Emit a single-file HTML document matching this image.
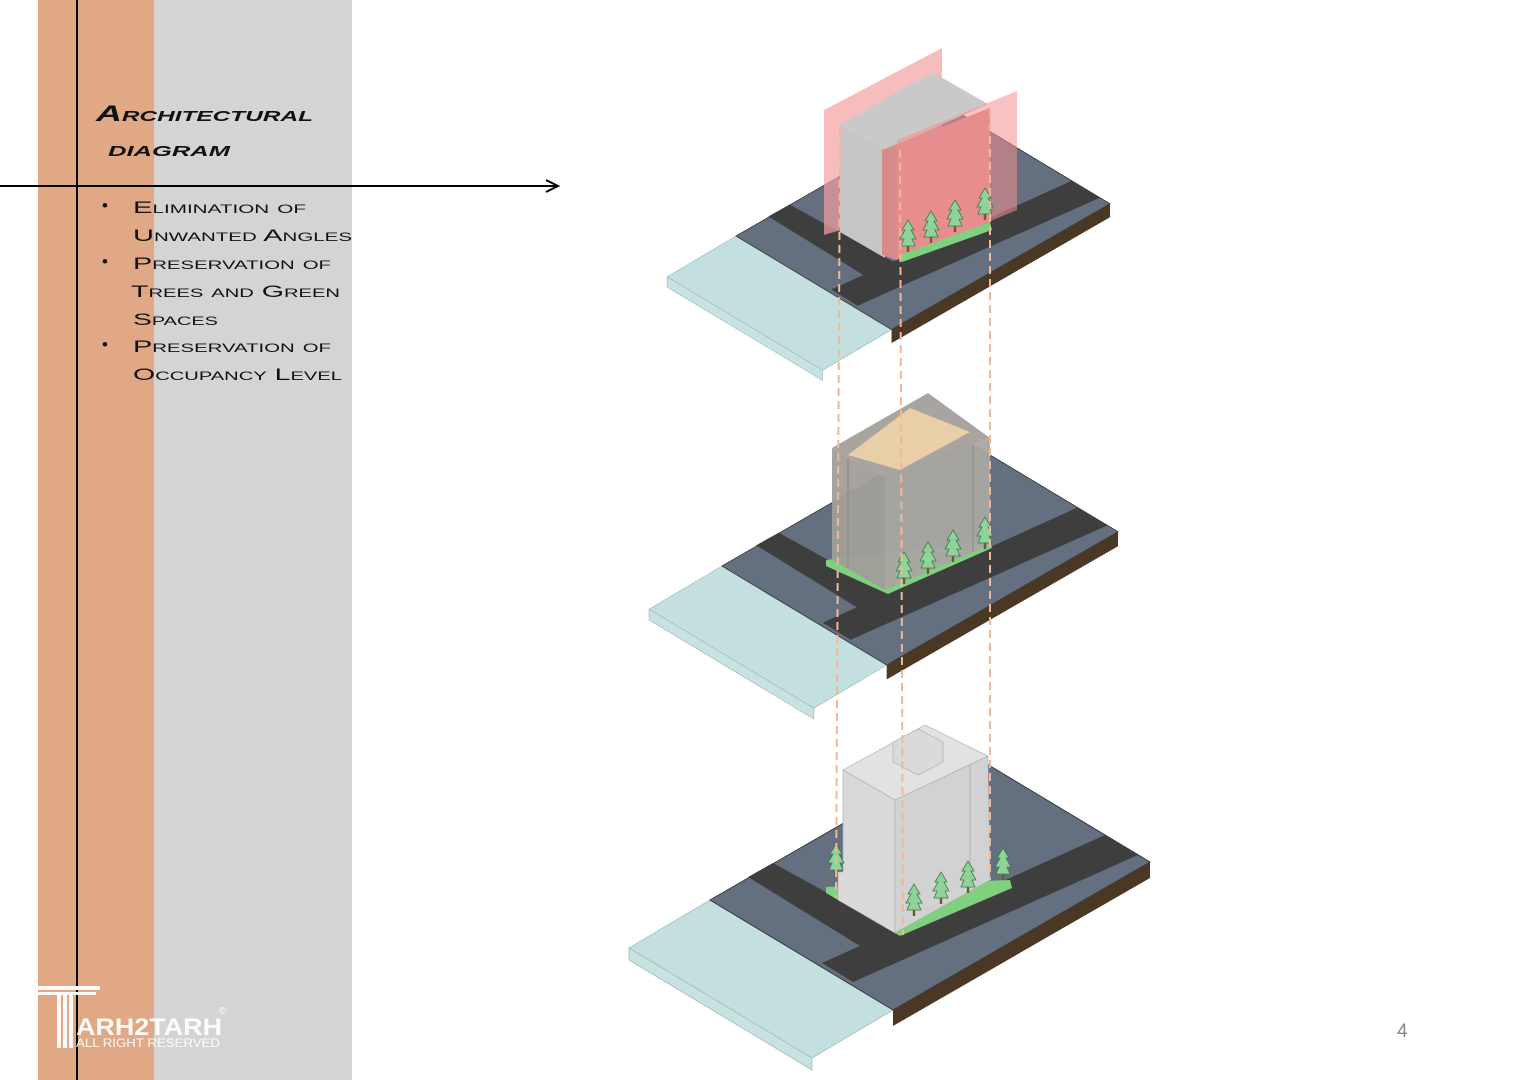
<!DOCTYPE html>
<html><head><meta charset="utf-8"><style>
html,body{margin:0;padding:0;background:#fff;}
body{width:1523px;height:1080px;overflow:hidden;position:relative;font-family:"Liberation Sans",sans-serif;}
svg{position:absolute;left:0;top:0;}
</style></head><body>
<svg width="1523" height="1080" viewBox="0 0 1523 1080" xmlns="http://www.w3.org/2000/svg">
<defs>
<g id="plat">
  <polygon points="-81,48 0,0 183,110 102,158" fill="#c3dfdf" stroke="#9fbfc0" stroke-width="0.8"/>
  <polygon points="-81,48 102,158 102,170 -81,60" fill="#c8e2e2" stroke="#9fbfc0" stroke-width="0.8"/>
  <polygon points="183,110 440,-38 440,-22 183,126" fill="#4a3824"/>
  <polygon points="0,0 257,-148 440,-38 183,110" fill="#64707f" stroke="#3b3b3b" stroke-width="1"/>
  <polygon points="112,63 143,82 428,-45 395,-65" fill="#3e3e3e"/>
  <polygon points="38,-23 63,-37 185,30 150,46" fill="#3e3e3e"/>
</g>
<g id="tree">
  <rect x="-1.2" y="6" width="2.4" height="10" fill="#6a5a3a"/>
  <polygon points="0,-16 6,-6 3,-6 8,3 4,3 7,10 -7,10 -4,3 -8,3 -3,-6 -6,-6" fill="#8fd29a" stroke="#3d7a4a" stroke-width="0.8"/>
</g>
</defs>

<rect x="38" y="0" width="116" height="1080" fill="#e0a884"/>
<rect x="154" y="0" width="198" height="1080" fill="#d4d4d4"/>
<line x1="77" y1="0" x2="77" y2="1080" stroke="#000" stroke-width="2"/>
<line x1="0" y1="186" x2="556" y2="186" stroke="#000" stroke-width="2"/>
<polyline points="546,180 558,186 546,192" fill="none" stroke="#000" stroke-width="2"/>

<text x="96" y="121" textLength="217" lengthAdjust="spacingAndGlyphs" font-family="Liberation Sans" font-style="italic" font-weight="bold" font-size="22" style="font-variant:small-caps" fill="#111">Architectural</text>
<text x="108" y="156" textLength="122" lengthAdjust="spacingAndGlyphs" font-family="Liberation Sans" font-style="italic" font-weight="bold" font-size="22" style="font-variant:small-caps" fill="#111">diagram</text>

<g font-family="Liberation Sans" font-size="17" style="font-variant:small-caps" fill="#111">
<text x="102" y="211">•</text>
<text x="133" y="213" textLength="173" lengthAdjust="spacingAndGlyphs">Elimination of</text>
<text x="133" y="241" textLength="219" lengthAdjust="spacingAndGlyphs">Unwanted Angles</text>
<text x="102" y="267">•</text>
<text x="133" y="269" textLength="198" lengthAdjust="spacingAndGlyphs">Preservation of</text>
<text x="131" y="297" textLength="209" lengthAdjust="spacingAndGlyphs">Trees and Green</text>
<text x="133" y="325" textLength="85" lengthAdjust="spacingAndGlyphs">Spaces</text>
<text x="102" y="350">•</text>
<text x="133" y="352" textLength="198" lengthAdjust="spacingAndGlyphs">Preservation of</text>
<text x="133" y="380" textLength="209" lengthAdjust="spacingAndGlyphs">Occupancy Level</text>
</g>

<g fill="#fff" opacity="0.95">
<rect x="32" y="986" width="68" height="4" rx="1"/>
<rect x="38" y="992" width="58" height="3"/>
<rect x="57" y="995" width="4" height="53"/>
<rect x="63" y="995" width="4" height="53"/>
<rect x="69" y="995" width="4" height="53"/>
<text x="76" y="1035" textLength="146" lengthAdjust="spacingAndGlyphs" font-family="Liberation Sans" font-weight="bold" font-size="24">ARH2TARH</text>
<text x="76" y="1047" textLength="144" lengthAdjust="spacingAndGlyphs" font-family="Liberation Sans" font-size="12">ALL RIGHT RESERVED</text>
<text x="219" y="1014" font-family="Liberation Sans" font-size="10">©</text>
</g>

<use href="#plat" transform="translate(736,236) scale(0.85)"/>
<use href="#plat" transform="translate(722,566) scale(0.9)"/>
<use href="#plat" transform="translate(710,900)"/>

<!-- TOP building -->
<polygon points="824,110 942,48 942,200 824,235" fill="#f4a0a0" opacity="0.7"/>
<polygon points="840,125 932,72 988,104 885,150" fill="#c9c9c9"/>
<polygon points="840,125 885,150 885,258 840,232" fill="#c6c6c6"/>
<polygon points="882,150 990,108 990,222 896,260 882,255" fill="#d98a8a"/>
<polygon points="897,140 1017,91 1017,210 897,260" fill="#f29090" opacity="0.55"/>
<polygon points="900,255 990,222 992,230 902,262" fill="#7fd07f"/>
<use href="#tree" transform="translate(908,236)"/>
<use href="#tree" transform="translate(931,227)"/>
<use href="#tree" transform="translate(955,216)"/>
<use href="#tree" transform="translate(985,204)"/>

<!-- MIDDLE building -->
<polygon points="826,560 990,540 992,548 888,594 826,566" fill="#7fd07f"/>
<polygon points="832,448 928,393 990,438 885,478" fill="#a8a4a0"/>
<polygon points="848,455 910,408 970,432 900,470" fill="#e9cfa8"/>
<polygon points="832,448 885,478 885,590 832,560" fill="#a19e9a" opacity="0.95"/>
<polygon points="885,478 990,438 990,545 885,590" fill="#aaa6a2" opacity="0.95"/>
<line x1="848" y1="458" x2="848" y2="568" stroke="#8a8884" stroke-width="1"/>
<line x1="973" y1="445" x2="973" y2="552" stroke="#8a8884" stroke-width="1"/>
<use href="#tree" transform="translate(904,568)"/>
<use href="#tree" transform="translate(928,558)"/>
<use href="#tree" transform="translate(953,546)"/>
<use href="#tree" transform="translate(985,533)"/>

<!-- BOTTOM building -->
<polygon points="826,887 1010,880 1012,888 900,936 826,893" fill="#7fd07f"/>
<polygon points="843,770 925,725 988,756 895,800" fill="#e2e2e2" stroke="#aaa" stroke-width="0.6"/>
<polygon points="893,742 918,729 943,742 943,762 918,775 893,762" fill="#dadada" stroke="#aaa" stroke-width="0.6"/>
<polygon points="843,770 895,800 895,933 838,900 838,872 843,872" fill="#d9d9d9" stroke="#aaa" stroke-width="0.6"/>
<polygon points="895,800 988,756 990,880 895,933" fill="#d2d2d2" stroke="#aaa" stroke-width="0.6"/>
<line x1="970" y1="765" x2="970" y2="885" stroke="#aaa" stroke-width="0.8"/>
<use href="#tree" transform="translate(836,860)"/>
<use href="#tree" transform="translate(914,900)"/>
<use href="#tree" transform="translate(941,888)"/>
<use href="#tree" transform="translate(968,877)"/>
<use href="#tree" transform="translate(1003,864)"/>

<g stroke="#f2b896" stroke-width="2" stroke-dasharray="8,5" fill="none">
<line x1="840" y1="128" x2="836" y2="898"/>
<line x1="900" y1="150" x2="903" y2="935"/>
<line x1="990" y1="110" x2="990" y2="880"/>
</g>

<text x="1397" y="1037" font-family="Liberation Sans" font-size="19" fill="#888">4</text>
</svg>
</body></html>
